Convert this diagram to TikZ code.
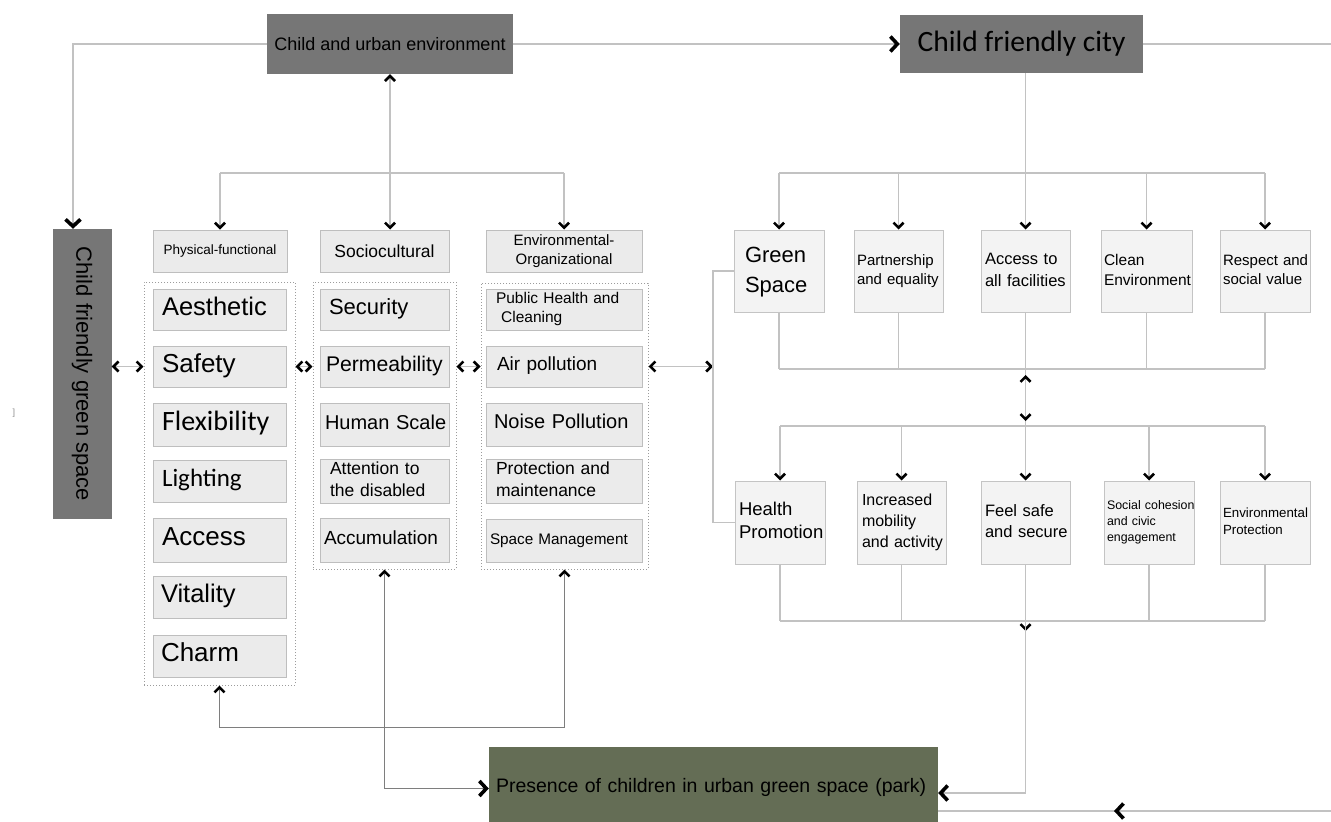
\documentclass[tikz,border=0pt]{standalone}
\usepackage{fontspec}
\setmainfont{Liberation Sans}
\newfontfamily\carl{Carlito}
\usetikzlibrary{arrows.meta}
\definecolor{darkbox}{HTML}{767676}
\definecolor{presfill}{HTML}{646D55}
\definecolor{itemfill}{HTML}{EBEBEB}
\definecolor{itemdraw}{HTML}{BEBEBE}
\definecolor{rbfill}{HTML}{F3F3F3}
\definecolor{rbdraw}{HTML}{C4C4C4}
\definecolor{contdraw}{HTML}{9C9C9C}
\definecolor{conncol}{HTML}{C2C2C2}
\definecolor{dconncol}{HTML}{7E7E7E}
\newcommand\fz[2]{\fontsize{#1}{#2}\selectfont}
\newcommand\bx[8]{%
 \pgfmathsetmacro\bw{#5-#3}\pgfmathsetmacro\bh{#6-#4}\pgfmathsetmacro\tw{#5-#3-2*#7}%
 \node[#1, inner xsep=#7pt, minimum width=\bw pt, minimum height=\bh pt, text width=\tw pt, align=left]
  (#2) at ({(#3+#5)/2},{(#4+#6)/2}) {\begin{tabular}{@{}l@{}}#8\end{tabular}};}
\newcommand\cx[7]{%
 \pgfmathsetmacro\bw{#5-#3}\pgfmathsetmacro\bh{#6-#4}%
 \node[#1, inner xsep=2pt, minimum width=\bw pt, minimum height=\bh pt, align=center]
  (#2) at ({(#3+#5)/2},{(#4+#6)/2}) {#7};}
\tikzset{
 chev/.tip={Straight Barb[length=5pt,width=10pt,line width=2.6pt,color=black]},
 bchev/.tip={Straight Barb[length=7pt,width=15pt,line width=3.6pt,color=black]},
 >=chev,
 base/.style={inner ysep=0pt, text=black},
 dark/.style={base, fill=darkbox, draw=none},
 presbox/.style={base, fill=presfill, draw=none},
 itm/.style={base, fill=itemfill, draw=itemdraw, line width=1pt},
 rbx/.style={base, fill=rbfill, draw=rbdraw, line width=1pt},
 cont/.style={draw=contdraw, dotted, line width=1pt, inner sep=0pt},
 conn/.style={draw=conncol, line width=1.3pt},
 dconn/.style={draw=dconncol, line width=1.3pt},
}
\begin{document}
\begin{tikzpicture}[x=1pt,y=-1pt]
\useasboundingbox (0,0) rectangle (1331,822);
\fill[white] (0,0) rectangle (1331,822);

% helper coordinates
\coordinate (ybus1) at (0,173);
\coordinate (ybus2) at (0,369);
\coordinate (ybus3) at (0,426);
\coordinate (ybus4) at (0,621);
\coordinate (ypres) at (0,793);
\coordinate (rtop) at (1331,41);
\coordinate (rbot) at (1331,811);
\coordinate (midb) at (1114,811);
\coordinate (gsv) at (713,0);

% main boxes
\cx{dark,font=\fz{18}{20}}{cue}{267}{14}{513}{74}{Child and urban environment}
\cx{dark,font=\carl\fz{29.5}{32}}{cfc}{900}{15}{1143}{73}{Child friendly city}
\node[dark, rotate=-90, minimum width=290pt, minimum height=59pt, font=\fz{22}{24}] (cfgs) at (82,374) {Child friendly green space};
\bx{presbox,font=\fz{19.5}{22}}{pres}{489}{747}{938}{830}{7}{Presence of children in urban green space (park)}

% containers
\node[cont, minimum width=151pt, minimum height=403pt] (pfc) at (219.5,483.5) {};
\node[cont, minimum width=143pt, minimum height=287pt] (scc) at (384.5,425.5) {};
\node[cont, minimum width=167pt, minimum height=286pt] (envc) at (564.5,426) {};

% headers
\cx{itm,font=\fz{13.5}{16}}{pf}{153}{230}{287}{272}{Physical-functional}
\cx{itm,font=\fz{17.5}{20}}{soc}{320}{230}{449}{272}{Sociocultural}
\cx{itm,font=\fz{15}{19}}{env}{486}{230}{642}{272}{Environmental-\\Organizational}

% physical-functional items
\bx{itm,font=\fz{25.5}{28}}{aes}{153}{289}{286}{330}{9}{Aesthetic}
\bx{itm,font=\fz{26}{28}}{saf}{153}{346}{286}{387}{9}{Safety}
\bx{itm,font=\carl\fz{28}{30}}{flx}{153}{403}{286}{446}{9}{Flexibility}
\bx{itm,font=\carl\fz{25}{28}}{lig}{153}{460}{286}{502}{9}{Lighting}
\bx{itm,font=\fz{26}{28}}{acc}{153}{518}{286}{562}{9}{Access}
\bx{itm,font=\fz{25.5}{28}}{vit}{153}{576}{286}{618}{8}{Vitality}
\bx{itm,font=\fz{26}{28}}{chm}{153}{635}{286}{677}{8}{Charm}

% sociocultural items
\bx{itm,font=\fz{22}{24}}{sec}{320}{289}{449}{330}{9}{Security}
\bx{itm,font=\fz{21.2}{24}}{per}{320}{346}{449}{387}{6}{Permeability}
\bx{itm,font=\fz{20}{24}}{hum}{320}{403}{449}{446}{5}{Human Scale}
\bx{itm,font=\fz{17.5}{22}}{att}{320}{460}{449}{502}{10}{Attention to\\the disabled}
\bx{itm,font=\fz{19}{22}}{acm}{320}{518}{449}{562}{4}{Accumulation}

% environmental-organizational items
\bx{itm,font=\fz{15.5}{19}}{phc}{486}{289}{642}{330}{10}{Public Health and\\\ Cleaning}
\bx{itm,font=\fz{19}{22}}{air}{486}{346}{642}{387}{11}{Air pollution}
\bx{itm,font=\fz{20}{22}}{noi}{486}{403}{642}{446}{8}{Noise Pollution}
\bx{itm,font=\fz{17.5}{22}}{pro}{486}{460}{642}{502}{10}{Protection and\\maintenance}
\bx{itm,font=\fz{15.3}{18}}{spm}{486}{519}{642}{562}{4}{Space Management}

% right boxes, upper row
\bx{rbx,font=\fz{22}{30}}{gs}{734}{230}{824}{312}{11}{Green\\Space}
\bx{rbx,font=\fz{15}{19}}{pe}{854}{230}{943}{312}{3}{Partnership\\and equality}
\bx{rbx,font=\fz{16.5}{22}}{af}{981}{230}{1070}{312}{4}{Access to\\all facilities}
\bx{rbx,font=\fz{15.5}{20}}{ce}{1101}{230}{1192}{312}{3}{Clean\\Environment}
\bx{rbx,font=\fz{15}{19}}{rs}{1220}{230}{1310}{312}{3}{Respect and\\social value}

% right boxes, lower row
\bx{rbx,font=\fz{18.5}{23}}{hp}{735}{481}{825}{564}{4}{Health\\Promotion}
\bx{rbx,font=\fz{16}{21}}{ima}{857}{481}{946}{564}{5}{Increased\\mobility\\and activity}
\bx{rbx,font=\fz{16.5}{21}}{fs}{981}{481}{1070}{564}{4}{Feel safe\\and secure}
\bx{rbx,font=\fz{12.4}{16}}{sc}{1104}{481}{1194}{564}{3}{Social cohesion\\and civic\\engagement}
\bx{rbx,font=\fz{13.3}{17}}{ep}{1220}{481}{1310}{564}{3}{Environmental\\Protection}

% stray mark at left margin
\node[text=black!45, font=\fz{9}{9}, inner sep=0pt] (mark) at (14,413) {]};

% ---- connectors: top
\draw[conn,-bchev] (cue.west) -| ([xshift=-9pt]cfgs.west);
\draw[conn,-bchev] (cue.east) -- (cue.east -| cfc.west);
\draw[conn] (cfc.east) -- (cfc.east -| rtop);
\draw[conn,<->] (cue.south) -- (cue.south |- soc.north);
\draw[conn] (pf.north |- ybus1) -- (env.north |- ybus1);
\draw[conn,->] (pf.north |- ybus1) -- (pf.north);
\draw[conn,->] (env.north |- ybus1) -- (env.north);

% ---- connectors between columns
\draw[conn,<->] (cfgs.north |- saf) -- (pfc.west |- saf);
\draw[conn,<->] (pfc.east |- saf) -- (scc.west |- saf);
\draw[conn,<->] (scc.east |- per) -- (envc.west |- per);
\draw[conn,<->] (envc.east |- air) -- (gsv |- air);
\draw[conn] (gs.west) -- (gsv |- gs.west) -- (gsv |- hp.west) -- (hp.west);

% ---- child friendly city tree
\draw[conn] (cfc.south -| af.north) -- (af.north |- ybus1);
\draw[conn] (gs.north |- ybus1) -- (rs.north |- ybus1);
\foreach \n in {gs,pe,af,ce,rs}{\draw[conn,->] (\n.north |- ybus1) -- (\n.north);}
\foreach \n in {gs,pe,af,ce,rs}{\draw[conn] (\n.south) -- (\n.south |- ybus2);}
\draw[conn] (gs.south |- ybus2) -- (rs.south |- ybus2);
\draw[conn] (af.south |- ybus2) -- (af.south |- ybus3);
\draw[conn,<->,shorten <=6pt,shorten >=5pt] (af.south |- ybus2) -- (af.south |- ybus3);
\draw[conn] (hp.north |- ybus3) -- (ep.north |- ybus3);
\foreach \n in {hp,ima,fs,sc,ep}{\draw[conn,->] (\n.north |- ybus3) -- (\n.north);}
\foreach \n in {hp,ima,fs,sc,ep}{\draw[conn] (\n.south) -- (\n.south |- ybus4);}
\draw[conn] (hp.south |- ybus4) -- (ep.south |- ybus4);
\draw[conn,->] (fs.south |- ybus4) -- ++(0,10);
\draw[conn,-bchev] (fs.south |- ybus4) |- (pres.east |- ypres);
\draw[conn] (rbot) -- (pres.east |- rbot);
\draw[conn,-bchev] (rbot) -- (midb);

% ---- bottom left connectors
\draw[dconn,<->] (pfc.south) -- ++(0,42) -| (envc.south);
\draw[dconn,-bchev] (scc.south) |- (pres.west);
\draw[dconn,->] (scc.south |- pres.west) -- (scc.south);
\end{tikzpicture}
\end{document}
